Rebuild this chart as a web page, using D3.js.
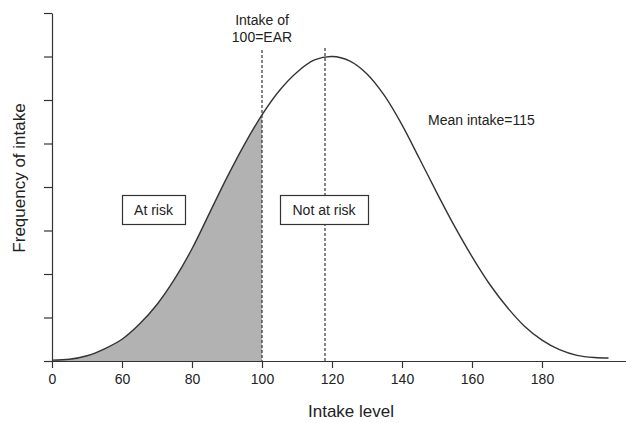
<!DOCTYPE html>
<html>
<head>
<meta charset="utf-8">
<script src="https://cdn.jsdelivr.net/npm/d3@7"></script>
<style>
    body { margin: 0; background: #fff; }
    text { font-family: "Liberation Sans", Arial, sans-serif; fill: #222; }
</style>
</head>
<body>
<svg id="chart" width="626" height="423"></svg>
<script>
// intake level (x) and frequency (y)
var intake = [40, 45, 50, 55, 60, 65, 70, 75, 80, 85, 90, 95, 100, 105, 110, 115, 120,
              125, 130, 135, 140, 145, 150, 155, 160, 165, 170, 175, 180, 185, 190, 195, 199];
var freq = [0.02, 0.04, 0.12, 0.28, 0.50, 0.85, 1.30, 1.88, 2.58, 3.40, 4.22, 4.98, 5.66, 6.22, 6.64, 6.92, 7.00,
            6.90, 6.60, 6.10, 5.43, 4.65, 3.86, 3.10, 2.40, 1.77, 1.24, 0.80, 0.48, 0.26, 0.13, 0.08, 0.07];

var xTicks = [40, 60, 80, 100, 120, 140, 160, 180];
var xTickLabels = ["0", "60", "80", "100", "120", "140", "160", "180"];
var yTicks = [0, 1, 2, 3, 4, 5, 6, 7, 8];

var earValue = 100;
var meanLine = 118;

var svg = d3.select("#chart");

var x = d3.scaleLinear().domain([40, 200]).range([52, 612]);
var y = d3.scaleLinear().domain([0, 8]).range([361, 13]);

var points = intake.map(function(d, i) { return { x: d, y: freq[i] }; });

// shaded "at risk" part
var riskPoints = points.filter(function(d) { return d.x <= earValue; });

svg.append("path")
    .datum(riskPoints)
    .attr("d", d3.area()
        .x(function(d) { return x(d.x); })
        .y0(y(0))
        .y1(function(d) { return y(d.y); })
        .curve(d3.curveCatmullRom))
    .style("fill", "#b2b2b2");

// curve
svg.append("path")
    .datum(points)
    .attr("d", d3.line()
        .x(function(d) { return x(d.x); })
        .y(function(d) { return y(d.y); })
        .curve(d3.curveCatmullRom))
    .style("fill", "none")
    .style("stroke", "#333")
    .style("stroke-width", 1.4);

// dashed lines
svg.append("line")
    .attr("x1", x(earValue)).attr("x2", x(earValue))
    .attr("y1", 50).attr("y2", y(0))
    .style("stroke", "#333")
    .style("stroke-width", 1.2)
    .style("stroke-dasharray", "3,2");

svg.append("line")
    .attr("x1", x(meanLine)).attr("x2", x(meanLine))
    .attr("y1", 48).attr("y2", y(0))
    .style("stroke", "#333")
    .style("stroke-width", 1.2)
    .style("stroke-dasharray", "3,2");

// axes
var xAxis = svg.append("g")
    .attr("transform", "translate(0," + y(0) + ")")
    .call(d3.axisBottom(x)
        .tickValues(xTicks)
        .tickFormat(function(d, i) { return xTickLabels[i]; })
        .tickSize(7)
        .tickSizeOuter(0)
        .tickPadding(6));

xAxis.select(".domain").attr("d", "M44,0.5H626");
xAxis.selectAll("line, path").style("stroke", "#333").style("stroke-width", 1.2);
xAxis.selectAll("text")
    .style("font-size", "14px")
    .style("font-family", "Liberation Sans, Arial, sans-serif")
    .style("fill", "#222");

var yAxis = svg.append("g")
    .attr("transform", "translate(" + x(40) + ",0)")
    .call(d3.axisLeft(y)
        .tickValues(yTicks)
        .tickFormat("")
        .tickSize(8)
        .tickSizeOuter(0));

yAxis.selectAll("line, path").style("stroke", "#333").style("stroke-width", 1.2);

// axis titles
svg.append("text")
    .attr("x", 351)
    .attr("y", 417)
    .style("text-anchor", "middle")
    .style("font-size", "17px")
    .text("Intake level");

svg.append("text")
    .attr("transform", "translate(25,178) rotate(-90)")
    .style("text-anchor", "middle")
    .style("font-size", "17px")
    .text("Frequency of intake");

// annotations
svg.append("text")
    .attr("x", x(earValue))
    .attr("y", 25)
    .style("text-anchor", "middle")
    .style("font-size", "14px")
    .text("Intake of");

svg.append("text")
    .attr("x", x(earValue))
    .attr("y", 42)
    .style("text-anchor", "middle")
    .style("font-size", "14px")
    .text("100=EAR");

svg.append("text")
    .attr("x", 428)
    .attr("y", 125)
    .style("font-size", "14px")
    .text("Mean intake=115");

var boxes = [
    { label: "At risk", x0: 122, x1: 185 },
    { label: "Not at risk", x0: 280, x1: 368 }
];

boxes.forEach(function(b) {
    svg.append("rect")
        .attr("x", b.x0 + 0.5)
        .attr("y", 195.5)
        .attr("width", b.x1 - b.x0)
        .attr("height", 29)
        .style("fill", "#fff")
        .style("stroke", "#333")
        .style("stroke-width", 1.2);

    svg.append("text")
        .attr("x", (b.x0 + b.x1) / 2)
        .attr("y", 215)
        .style("text-anchor", "middle")
        .style("font-size", "14px")
        .text(b.label);
});
</script>
</body>
</html>
